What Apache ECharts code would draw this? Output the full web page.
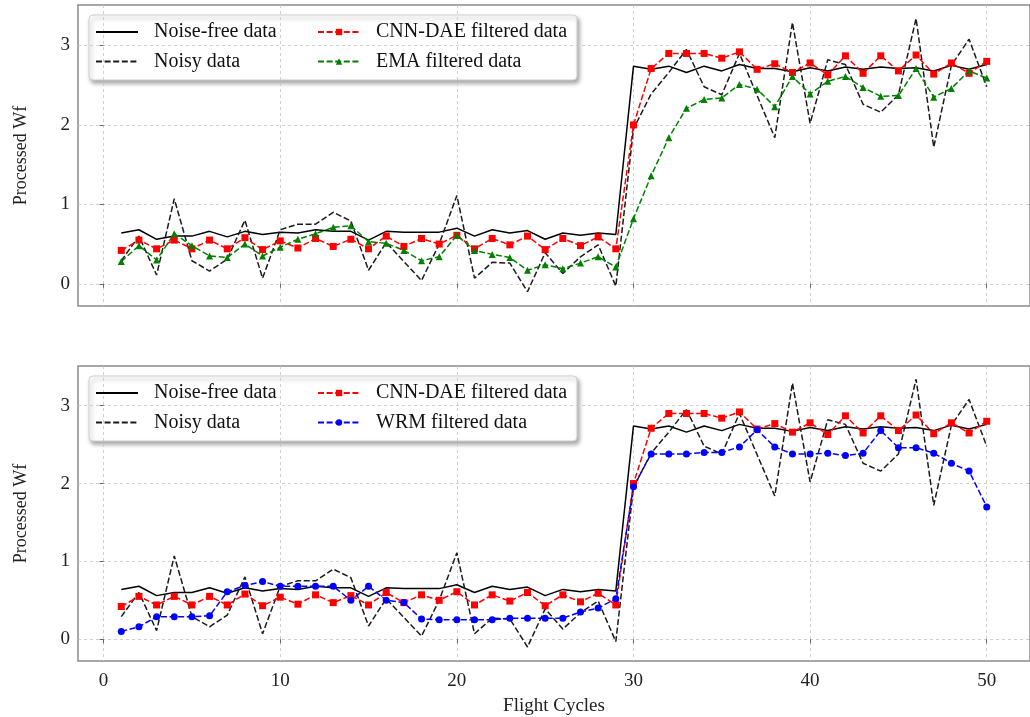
<!DOCTYPE html>
<html>
<head>
<meta charset="utf-8">
<script src="https://cdn.jsdelivr.net/npm/echarts@6/dist/echarts.min.js"></script>
<style>html,body{margin:0;padding:0;background:#fff}#c{width:1030px;height:717px}</style>
</head>
<body>
<div id="c"></div>
<script>
var cycles = [1,2,3,4,5,6,7,8,9,10,11,12,13,14,15,16,17,18,19,20,21,22,23,24,25,26,27,28,29,30,31,32,33,34,35,36,37,38,39,40,41,42,43,44,45,46,47,48,49,50];
var noiseFree = [0.64,0.68,0.56,0.60,0.60,0.66,0.59,0.66,0.62,0.65,0.64,0.68,0.66,0.66,0.55,0.66,0.65,0.65,0.65,0.70,0.60,0.68,0.64,0.67,0.56,0.64,0.61,0.64,0.62,2.74,2.70,2.74,2.66,2.74,2.68,2.76,2.71,2.71,2.67,2.72,2.68,2.73,2.70,2.73,2.71,2.72,2.68,2.75,2.70,2.76];
var noisy = [0.29,0.60,0.11,1.07,0.29,0.16,0.31,0.80,0.07,0.68,0.75,0.75,0.90,0.79,0.17,0.52,0.28,0.04,0.50,1.11,0.07,0.27,0.26,-0.10,0.39,0.13,0.34,0.49,-0.03,1.95,2.39,2.66,2.95,2.48,2.38,2.90,2.37,1.84,3.29,2.02,2.82,2.76,2.26,2.16,2.38,3.34,1.72,2.75,3.08,2.48];
var cnnDae = [0.42,0.55,0.44,0.55,0.44,0.55,0.44,0.58,0.43,0.54,0.45,0.57,0.47,0.56,0.44,0.60,0.47,0.57,0.50,0.61,0.44,0.57,0.49,0.60,0.43,0.57,0.48,0.59,0.44,2.00,2.71,2.90,2.90,2.90,2.84,2.92,2.70,2.77,2.66,2.78,2.63,2.87,2.65,2.87,2.68,2.88,2.64,2.78,2.65,2.80];
var ema = [0.28,0.48,0.30,0.63,0.48,0.35,0.33,0.50,0.35,0.46,0.56,0.63,0.71,0.73,0.53,0.51,0.42,0.29,0.34,0.61,0.42,0.37,0.33,0.17,0.24,0.19,0.26,0.34,0.21,0.82,1.36,1.84,2.21,2.32,2.34,2.51,2.45,2.23,2.61,2.39,2.55,2.61,2.47,2.36,2.37,2.71,2.35,2.46,2.68,2.59];
var wrm = [0.10,0.16,0.29,0.29,0.29,0.30,0.61,0.69,0.74,0.68,0.68,0.68,0.68,0.50,0.68,0.50,0.47,0.26,0.25,0.25,0.25,0.25,0.27,0.27,0.27,0.27,0.35,0.40,0.52,1.96,2.38,2.38,2.38,2.40,2.40,2.47,2.69,2.47,2.38,2.38,2.39,2.36,2.39,2.68,2.46,2.46,2.39,2.26,2.16,1.70];
var xTicks = [0,10,20,30,40,50];
var yTicks = [0,1,2,3];

function pairs(arr){ return cycles.map(function(c,i){ return [c, arr[i]]; }); }

var FONT = 'Liberation Serif';
var dash = [6, 2.6];
var chart = echarts.init(document.getElementById('c'), null, {renderer:'canvas'});

function xAxis(idx, showLabels){
  return {
    type:'value', gridIndex:idx, min:-1.45, max:52.45,
    axisLine:{show:false},
    axisTick:{show:true, customValues:xTicks, length:4, lineStyle:{color:'#666', width:1}},
    axisLabel:{show:showLabels, customValues:xTicks, fontFamily:FONT, fontSize:19, color:'#222', margin:11},
    splitLine:{show:true, lineStyle:{color:'#c4c4c4', width:0.8, type:[3,3]}},
    name: showLabels ? 'Flight Cycles' : '',
    nameLocation:'middle', nameGap:36,
    nameTextStyle:{fontFamily:FONT, fontSize:19, color:'#222'}
  };
}
function yAxis(idx){
  return {
    type:'value', gridIndex:idx, min:-0.28, max:3.51,
    axisLine:{show:false},
    axisTick:{show:true, customValues:yTicks, length:4, lineStyle:{color:'#666', width:1}},
    axisLabel:{customValues:yTicks, fontFamily:FONT, fontSize:19, color:'#222', margin:8},
    splitLine:{show:true, lineStyle:{color:'#c4c4c4', width:0.8, type:[3,3]}},
    name:'Processed Wf', nameLocation:'middle', nameRotate:90, nameGap:48,
    nameTextStyle:{fontFamily:FONT, fontSize:18, color:'#222'}
  };
}
function lineSeries(name, arr, idx, color, type, symbol, z){
  return {
    name:name, type:'line', xAxisIndex:idx, yAxisIndex:idx, data:pairs(arr),
    symbol: symbol || 'none', symbolSize: symbol ? 7 : 0, showSymbol: !!symbol,
    lineStyle:{color:color, width:1.5, type:type},
    itemStyle:{color:color},
    z:z, animation:false, silent:true
  };
}
function legendBox(top){
  return {
    type:'rect', shape:{x:89, y:top, width:488, height:65, r:4},
    style:{fill:'#fff', stroke:'#d0d0d0', lineWidth:1, shadowBlur:4, shadowOffsetX:2, shadowOffsetY:3, shadowColor:'rgba(0,0,0,0.35)'}
  };
}
function legend(data, left, top){
  return {
    data:data, orient:'vertical', left:left, top:top, padding:0, itemWidth:42, itemHeight:8, itemGap:9.5,
    selectedMode:false, z:5,
    textStyle:{fontFamily:FONT, fontSize:20, color:'#111', lineHeight:20, padding:[0,0,0,11]}
  };
}
var plainA = {name:'Noise-free data', itemStyle:{opacity:0}};
var plainB = {name:'Noisy data', itemStyle:{opacity:0}};

var option = {
  backgroundColor:'#fff',
  animation:false,
  grid:[
    {left:78, top:5, width:961, height:301, show:true, borderColor:'#8a8a8a', borderWidth:1.5, backgroundColor:'transparent'},
    {left:78, top:366, width:961, height:301, show:true, borderColor:'#8a8a8a', borderWidth:1.5, backgroundColor:'transparent'}
  ],
  xAxis:[xAxis(0,false), xAxis(1,true)],
  yAxis:[yAxis(0), yAxis(1)],
  graphic:{z:3, elements:[legendBox(15), legendBox(376)]},
  legend:[
    legend([plainA, plainB], 95, 22),
    legend(['CNN-DAE filtered data','EMA filtered data'], 317, 22),
    legend([plainA, plainB], 95, 383),
    legend(['CNN-DAE filtered data','WRM filtered data'], 317, 383)
  ],
  series:[
    lineSeries('Noise-free data', noiseFree, 0, '#000000', 'solid', null, 2),
    lineSeries('Noisy data', noisy, 0, '#1a1a1a', dash, null, 2),
    lineSeries('CNN-DAE filtered data', cnnDae, 0, '#ff0000', dash, 'rect', 2),
    lineSeries('EMA filtered data', ema, 0, '#008000', dash, 'triangle', 2),
    lineSeries('Noise-free data', noiseFree, 1, '#000000', 'solid', null, 2),
    lineSeries('Noisy data', noisy, 1, '#1a1a1a', dash, null, 2),
    lineSeries('CNN-DAE filtered data', cnnDae, 1, '#ff0000', dash, 'rect', 2),
    lineSeries('WRM filtered data', wrm, 1, '#0000ff', dash, 'circle', 2)
  ]
};
chart.setOption(option);
</script>
</body>
</html>
